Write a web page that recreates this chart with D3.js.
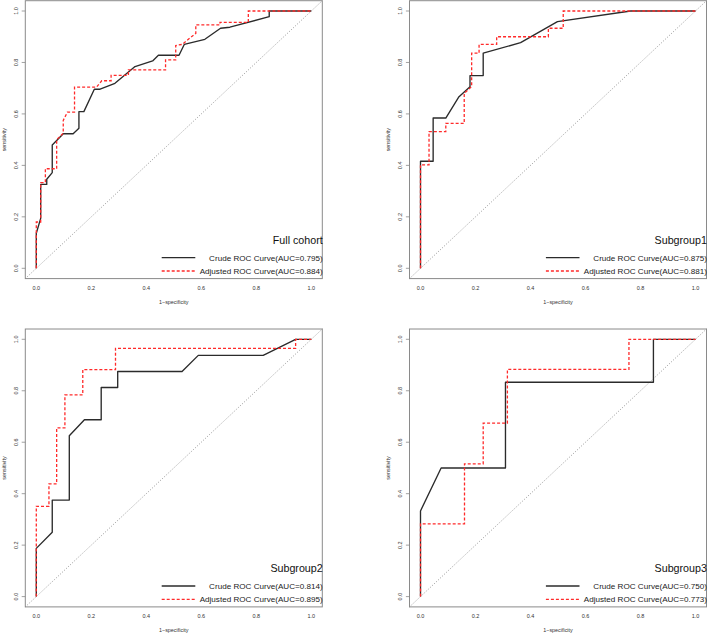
<!DOCTYPE html>
<html><head><meta charset="utf-8">
<script src="https://cdn.jsdelivr.net/npm/d3@7"></script>
<style>body{margin:0;background:#fff}svg{display:block}text{font-family:"Liberation Sans",Arial,Helvetica,sans-serif}</style>
</head><body>
<script>
// ---- data ----
const panelTitles = ["Full cohort","Subgroup1","Subgroup2","Subgroup3"];
const crudeAUC = ["0.795","0.875","0.814","0.750"];
const adjAUC = ["0.884","0.881","0.895","0.773"];
const tickValues = [0,0.2,0.4,0.6,0.8,1.0];
const tickLabels = ["0.0","0.2","0.4","0.6","0.8","1.0"];

const crudeFull = [[0,0],[0,0.136],[0.016,0.194],[0.016,0.326],[0.038,0.326],[0.038,0.346],[0.058,0.372],[0.058,0.479],[0.098,0.523],[0.134,0.523],[0.155,0.544],[0.155,0.609],[0.173,0.609],[0.211,0.696],[0.232,0.696],[0.286,0.719],[0.359,0.784],[0.423,0.806],[0.444,0.828],[0.519,0.828],[0.538,0.870],[0.613,0.890],[0.670,0.933],[0.704,0.937],[0.847,0.978],[0.847,1],[1,1]];
const adjFull = [[0,0],[0,0.18],[0.016,0.18],[0.016,0.333],[0.033,0.333],[0.033,0.387],[0.074,0.387],[0.074,0.5],[0.098,0.525],[0.098,0.575],[0.113,0.607],[0.139,0.607],[0.139,0.704],[0.219,0.704],[0.238,0.729],[0.272,0.729],[0.272,0.75],[0.335,0.75],[0.335,0.771],[0.47,0.771],[0.47,0.81],[0.507,0.81],[0.507,0.866],[0.53,0.87],[0.553,0.89],[0.58,0.913],[0.58,0.946],[0.668,0.946],[0.668,0.956],[0.771,0.956],[0.771,1],[1,1]];

const crudeSub1 = [[0,0],[0,0.416],[0.046,0.416],[0.046,0.584],[0.092,0.584],[0.140,0.667],[0.180,0.706],[0.180,0.749],[0.228,0.749],[0.228,0.836],[0.364,0.877],[0.498,0.959],[0.764,1],[1,1]];
const adjSub1 = [[0,0],[0,0.402],[0.031,0.402],[0.031,0.531],[0.092,0.531],[0.092,0.563],[0.159,0.563],[0.159,0.68],[0.186,0.706],[0.186,0.836],[0.213,0.836],[0.213,0.870],[0.277,0.870],[0.277,0.9],[0.465,0.9],[0.465,0.933],[0.519,0.933],[0.519,1],[1,1]];

const crudeSub2 = [[0,0],[0,0.1875],[0.058,0.25],[0.058,0.375],[0.12,0.375],[0.12,0.625],[0.175,0.6875],[0.236,0.6875],[0.236,0.8125],[0.296,0.8125],[0.296,0.875],[0.53,0.875],[0.589,0.9375],[0.825,0.9375],[0.943,1],[1,1]];
const adjSub2 = [[0,0],[0,0.351],[0.046,0.351],[0.046,0.438],[0.074,0.438],[0.074,0.656],[0.104,0.656],[0.104,0.784],[0.169,0.784],[0.169,0.882],[0.288,0.882],[0.288,0.965],[0.943,0.965],[0.943,1],[1,1]];

const crudeSub3 = [[0,0],[0,0.333],[0.075,0.5],[0.309,0.5],[0.309,0.833],[0.847,0.833],[0.847,1],[1,1]];
const adjSub3 = [[0,0],[0,0.283],[0.160,0.283],[0.160,0.516],[0.228,0.516],[0.228,0.674],[0.316,0.674],[0.316,0.883],[0.758,0.883],[0.758,1],[1,1]];

const crudeCurves = [crudeFull, crudeSub1, crudeSub2, crudeSub3];
const adjCurves = [adjFull, adjSub1, adjSub2, adjSub3];

// ---- layout ----
const W = 708, H = 634;
const PW = 275, PH = 257.3;
const origins = [[36.3,11],[420.5,11],[36.3,339.3],[420.5,339.3]];
const pad = 0.04;

const svg = d3.select("body").append("svg").attr("width",W).attr("height",H);

origins.forEach((o,i) => {
  const x = d3.scaleLinear().domain([0,1]).range([o[0], o[0]+PW]);
  const y = d3.scaleLinear().domain([0,1]).range([o[1]+PH, o[1]]);
  const g = svg.append("g");
  const bx0 = x(-pad), bx1 = x(1+pad), by0 = y(1+pad), by1 = y(-pad);

  // diagonal reference
  g.append("line").attr("x1",x(-pad)).attr("y1",y(-pad)).attr("x2",x(1+pad)).attr("y2",y(1+pad))
    .attr("stroke","#7a7a7a").attr("stroke-width",0.8).attr("stroke-dasharray","1,1.8");

  const line = d3.line().x(d=>x(d[0])).y(d=>y(d[1]));
  g.append("path").datum(crudeCurves[i]).attr("d",line).attr("fill","none")
    .attr("stroke","#2b2b2b").attr("stroke-width",1.35).attr("stroke-linejoin","round");
  g.append("path").datum(adjCurves[i]).attr("d",line).attr("fill","none")
    .attr("stroke","#ff2a2a").attr("stroke-width",1.3).attr("stroke-dasharray","3,2");

  // box
  g.append("rect").attr("x",bx0).attr("y",by0).attr("width",bx1-bx0).attr("height",by1-by0)
    .attr("fill","none").attr("stroke","#8a8a8a").attr("stroke-width",1);

  // ticks
  tickValues.forEach((v,k) => {
    g.append("line").attr("x1",bx0).attr("x2",bx0-3.6).attr("y1",y(v)).attr("y2",y(v))
      .attr("stroke","#8a8a8a").attr("stroke-width",0.8);
    g.append("text").attr("transform",`translate(${o[0]-18.8},${y(v)}) rotate(-90)`)
      .attr("text-anchor","middle").attr("font-size",5.5).attr("fill","#333").text(tickLabels[k]);
    g.append("text").attr("x",x(v)).attr("y",by1+11.5)
      .attr("text-anchor","middle").attr("font-size",5.5).attr("fill","#333").text(tickLabels[k]);
  });

  g.append("text").attr("transform",`translate(${o[0]-30.8},${y(0.5)}) rotate(-90)`)
    .attr("text-anchor","middle").attr("font-size",5.4).attr("fill","#333").text("sensitivity");
  g.append("text").attr("x",x(0.5)).attr("y",by1+25)
    .attr("text-anchor","middle").attr("font-size",5.4).attr("fill","#333").text("1\u2212specificity");

  // legend
  const rx = bx1 + 0.4;
  const y0 = y(0);
  g.append("text").attr("x",rx).attr("y",y0-24.8).attr("text-anchor","end")
    .attr("font-size",10.7).attr("fill","#111").text(panelTitles[i]);
  const lx0 = o[0]+125.4, lx1 = o[0]+159;
  g.append("line").attr("x1",lx0).attr("x2",lx1).attr("y1",y0-10.6).attr("y2",y0-10.6)
    .attr("stroke","#2b2b2b").attr("stroke-width",1.3);
  g.append("line").attr("x1",lx0).attr("x2",lx1).attr("y1",y0+2.7).attr("y2",y0+2.7)
    .attr("stroke","#ff2a2a").attr("stroke-width",1.3).attr("stroke-dasharray","3,2");
  g.append("text").attr("x",rx).attr("y",y0-10.6+2.9).attr("text-anchor","end")
    .attr("font-size",8.1).attr("fill","#222").text(`Crude ROC Curve(AUC=${crudeAUC[i]})`);
  g.append("text").attr("x",rx).attr("y",y0+2.7+2.9).attr("text-anchor","end")
    .attr("font-size",8.1).attr("fill","#222").text(`Adjusted ROC Curve(AUC=${adjAUC[i]})`);
});
</script>
</body></html>
